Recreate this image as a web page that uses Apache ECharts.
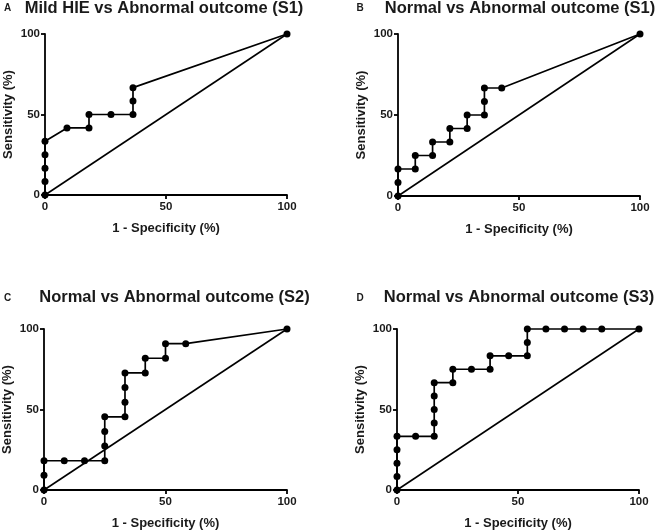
<!DOCTYPE html>
<html>
<head>
<meta charset="utf-8">
<script src="https://cdn.jsdelivr.net/npm/echarts@6/dist/echarts.min.js"></script>
<style>
html,body{margin:0;padding:0;background:#fff;}
#chart{width:661px;height:532px;}
</style>
</head>
<body>
<div id="chart"></div>
<script>
// Panel titles
const panelLetters = ['A', 'B', 'C', 'D'];
const panelTitles = [
  'Mild HIE vs Abnormal outcome (S1)',
  'Normal vs Abnormal outcome (S1)',
  'Normal vs Abnormal outcome (S2)',
  'Normal vs Abnormal outcome (S3)'
];
const xAxisTitle = '1 - Specificity (%)';
const yAxisTitle = 'Sensitivity (%)';
const tickValues = [0, 50, 100];

// Panel A: 1 - specificity (%) and sensitivity (%)
const aFpr  = [0, 0, 0, 0, 0, 9.09, 18.18, 18.18, 27.27, 36.36, 36.36, 36.36, 100];
const aSens = [0, 8.33, 16.67, 25, 33.33, 41.67, 41.67, 50, 50, 50, 58.33, 66.67, 100];

// Panel B
const bFpr  = [0, 0, 0, 7.14, 7.14, 14.29, 14.29, 21.43, 21.43, 28.57, 28.57, 35.71, 35.71, 35.71, 42.86, 100];
const bSens = [0, 8.33, 16.67, 16.67, 25, 25, 33.33, 33.33, 41.67, 41.67, 50, 50, 58.33, 66.67, 66.67, 100];

// Panel C
const cFpr  = [0, 0, 0, 8.33, 16.67, 25, 25, 25, 25, 33.33, 33.33, 33.33, 33.33, 41.67, 41.67, 50, 50, 58.33, 100];
const cSens = [0, 9.09, 18.18, 18.18, 18.18, 18.18, 27.27, 36.36, 45.45, 45.45, 54.55, 63.64, 72.73, 72.73, 81.82, 81.82, 90.91, 90.91, 100];

// Panel D
const dFpr  = [0, 0, 0, 0, 0, 7.69, 15.38, 15.38, 15.38, 15.38, 15.38, 23.08, 23.08, 30.77, 38.46, 38.46, 46.15, 53.85, 53.85, 53.85, 61.54, 69.23, 76.92, 84.62, 100];
const dSens = [0, 8.33, 16.67, 25, 33.33, 33.33, 33.33, 41.67, 50, 58.33, 66.67, 66.67, 75, 75, 75, 83.33, 83.33, 83.33, 91.67, 100, 100, 100, 100, 100, 100];

// Chance line
const chanceX = [0, 100];
const chanceY = [0, 100];

const panels = [[aFpr, aSens], [bFpr, bSens], [cFpr, cSens], [dFpr, dSens]];

const grids = [
  {left: 45, top: 34, width: 242, height: 161},
  {left: 398, top: 34, width: 242, height: 162},
  {left: 44, top: 329, width: 243, height: 161},
  {left: 397, top: 329, width: 242, height: 161}
];

const FONT = 'Liberation Sans, Arial, sans-serif';
const INK = '#1a1a1a';

const xAxes = [], yAxes = [], series = [];
grids.forEach((g, i) => {
  xAxes.push({
    gridIndex: i, type: 'value', min: 0, max: 100, interval: 50,
    name: xAxisTitle, nameLocation: 'middle', nameGap: 27,
    nameTextStyle: {fontFamily: FONT, fontWeight: 'bold', fontSize: 13, color: INK},
    axisLine: {show: true, lineStyle: {color: '#000', width: 1.8}},
    axisTick: {show: true, length: 4, lineStyle: {color: '#000', width: 1.8}},
    axisLabel: {margin: 6, fontFamily: FONT, fontWeight: 'bold', fontSize: 11.5, color: INK,
      formatter: v => tickValues.includes(v) ? String(v) : ''},
    splitLine: {show: false}
  });
  yAxes.push({
    gridIndex: i, type: 'value', min: 0, max: 100, interval: 50,
    name: yAxisTitle, nameLocation: 'middle', nameGap: 30,
    nameTextStyle: {fontFamily: FONT, fontWeight: 'bold', fontSize: 13, color: INK},
    axisLine: {show: true, lineStyle: {color: '#000', width: 1.8}},
    axisTick: {show: true, length: 4, lineStyle: {color: '#000', width: 1.8}},
    axisLabel: {margin: 5, fontFamily: FONT, fontWeight: 'bold', fontSize: 11.5, color: INK,
      formatter: v => tickValues.includes(v) ? String(v) : ''},
    splitLine: {show: false}
  });
  series.push({
    type: 'line', xAxisIndex: i, yAxisIndex: i,
    data: chanceX.map((x, k) => [x, chanceY[k]]),
    showSymbol: false, symbol: 'none', clip: false,
    lineStyle: {color: '#000', width: 1.6}, animation: false, silent: true
  });
  const [fx, sy] = panels[i];
  series.push({
    type: 'line', xAxisIndex: i, yAxisIndex: i,
    data: fx.map((x, k) => [x, sy[k]]),
    symbol: 'circle', symbolSize: 7, showAllSymbol: true, clip: false,
    itemStyle: {color: '#000'},
    lineStyle: {color: '#000', width: 1.7}, animation: false, silent: true
  });
});

const letterPos = [[7.5, 8.7], [360, 8.7], [7.5, 298.5], [360, 298.5]];
const titlePos = [[164, 8.7], [520, 8.7], [174.5, 297.3], [519, 297.5]];
const graphics = [];
for (let i = 0; i < 4; i++) {
  graphics.push({
    type: 'text', x: letterPos[i][0], y: letterPos[i][1],
    style: {text: panelLetters[i], font: 'bold 10px ' + FONT, fill: INK, align: 'center', verticalAlign: 'middle'}
  });
  graphics.push({
    type: 'text', x: titlePos[i][0], y: titlePos[i][1],
    style: {text: panelTitles[i], font: 'bold 16.5px ' + FONT, fill: INK, align: 'center', verticalAlign: 'middle'}
  });
}

const chart = echarts.init(document.getElementById('chart'), null, {renderer: 'canvas'});
chart.setOption({
  backgroundColor: '#fff',
  animation: false,
  grid: grids,
  xAxis: xAxes,
  yAxis: yAxes,
  series: series,
  graphic: graphics
});
</script>
</body>
</html>
